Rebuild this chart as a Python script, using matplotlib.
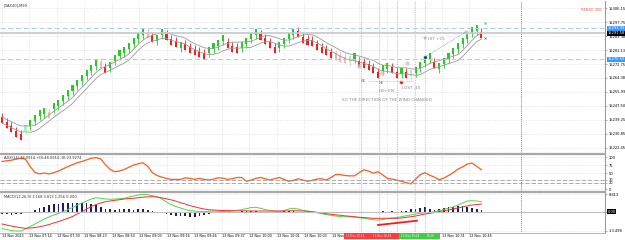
import numpy as np
import pandas as pd
import matplotlib
matplotlib.use("Agg")
import matplotlib.pyplot as plt
from matplotlib.lines import Line2D
from matplotlib.patches import Rectangle

# ---------------- data ----------------
closes = [15237.3, 15234.3, 15231.9, 15228.9, 15227.1, 15236.1, 15239.1, 15242.1, 15245.1, 15246.3,
          15240.3, 15249.3, 15251.1, 15254.1, 15257.1, 15260.1, 15263.1, 15266.1, 15269.1, 15272.1,
          15275.1, 15270.3, 15267.3, 15273.9, 15278.1, 15281.1, 15282.9, 15285.3, 15288.3, 15291.3,
          15293.7, 15288.3, 15285.9, 15290.1, 15293.7, 15287.1, 15284.1, 15282.9, 15285.9, 15281.1,
          15279.3, 15278.1, 15276.9, 15275.7, 15282.9, 15285.3, 15287.1, 15290.1, 15282.3, 15279.9,
          15279.3, 15285.9, 15288.3, 15291.3, 15293.7, 15287.1, 15284.7, 15282.3, 15279.3, 15285.9,
          15288.3, 15291.3, 15293.7, 15288.9, 15285.3, 15284.1, 15283.5, 15281.1, 15279.3, 15278.1,
          15276.3, 15275.1, 15273.9, 15273.3, 15277.5, 15279.3, 15270.9, 15270.3, 15269.1, 15267.3,
          15264.3, 15272.1, 15273.3, 15267.3, 15264.3, 15270.3, 15264.3, 15269.1, 15270.9, 15273.9,
          15276.9, 15279.3, 15270.3, 15273.3, 15276.3, 15279.3, 15282.3, 15285.3, 15288.3, 15291.3,
          15294.9, 15296.1, 15288.3]
pale_bars = [5, 10, 21, 31, 71, 72, 73, 74, 87]
body_size = 3.6
wick_size = 2.4

adx = [87, 89, 91, 94, 97, 94, 71, 53, 48, 51, 48, 52, 57, 64, 71, 77, 83, 87, 92, 97,
       99, 95, 77, 62, 55, 57, 62, 69, 76, 80, 83, 72, 52, 43, 38, 34, 31, 31, 31, 36,
       34, 31, 34, 31, 29, 32, 36, 35, 31, 33, 37, 37, 25, 29, 34, 37, 33, 29, 33, 37,
       31, 25, 28, 33, 29, 25, 28, 32, 33, 29, 37, 46, 46, 43, 42, 42, 52, 61, 57, 50,
       55, 45, 34, 32, 29, 25, 21, 17, 32, 46, 52, 44, 38, 30, 35, 43, 52, 63, 70, 79,
       82, 72, 61]
adx_levels = [30, 20]

macd_green = [-11.8, -12.5, -13.2, -13.5, -13.5, -12.1, -10.4, -8.6, -6.9, -5.1,
              -3.7, -2.3, -1.3, 0.1, 1.5, 2.9, 4.7, 6.1, 7.5, 8.9,
              9.8, 9.4, 8.9, 8.7, 8.9, 9.1, 9.4, 10.3, 11.0, 11.7,
              12.2, 11.9, 11.2, 10.5, 8.9, 6.8, 5.0, 3.6, 2.6, 1.5,
              0.8, 0.5, 0.0, 0.0, 0.3, 0.5, 0.3, 0.1, 0.0, 0.5,
              1.0, 1.5, 2.2, 2.9, 3.1, 2.4, 1.5, 0.8, 0.3, 0.0,
              0.8, 1.9, 2.4, 1.9, 1.0, 0.5, -0.2, -0.7, -1.3, -2.0,
              -2.5, -3.0, -3.4, -3.6, -3.5, -3.7, -4.2, -4.6, -5.1, -5.6,
              -5.8, -5.5, -4.8, -4.4, -4.1, -3.5, -2.8, -2.3, -1.6, -1.1,
              -0.7, -0.6, 0.0, 0.8, 1.7, 2.4, 3.3, 4.7, 6.1, 7.5,
              7.7, 7.5, 7.0]
macd_red = [-8.6, -9.3, -10.0, -10.7, -11.2, -11.6, -11.4, -11.1, -10.5, -9.8,
            -9.0, -7.9, -6.9, -5.8, -4.6, -3.4, -1.6, -0.2, 1.9, 3.6,
            5.0, 6.1, 7.0, 7.5, 8.0, 8.4, 8.9, 9.2, 9.4, 9.8,
            10.2, 10.4, 10.5, 10.3, 9.7, 9.0, 8.3, 7.4, 6.3, 5.4,
            4.3, 3.4, 2.6, 1.9, 1.4, 1.2, 1.0, 0.8, 0.8, 0.7,
            0.6, 0.6, 0.6, 0.5, 0.5, 0.5, 0.5, 0.5, 0.5, 0.5,
            0.5, 0.6, 0.7, 0.6, 0.5, 0.3, 0.0, -0.4, -0.9, -1.4,
            -1.8, -2.2, -2.5, -2.9, -3.2, -3.5, -3.9, -4.1, -4.4, -4.6,
            -4.6, -4.6, -4.6, -4.6, -4.6, -4.4, -3.9, -3.5, -3.0, -2.3,
            -1.6, -1.1, -0.6, 0.0, 0.7, 1.2, 1.9, 2.6, 3.3, 4.1,
            4.7, 5.0, 5.4]
macd_hist = [-1.6, -1.8, -2.0, -1.8, -1.6, -1.0, -0.3, 1.2, 2.4, 3.5,
             4.7, 5.2, 5.4, 5.9, 5.9, 5.9, 5.9, 5.9, 5.9, 5.4,
             4.7, 3.5, 1.9, 1.7, 1.5, 1.7, 2.0, 1.7, 1.5, 1.7,
             1.7, 1.2, 0.5, 0.0, -0.6, -1.6, -2.3, -2.7, -3.0, -3.2,
             -3.5, -3.4, -3.0, -2.3, -1.6, -1.1, -0.9, -0.7, -1.1, -0.9,
             -0.7, 0.6, 0.6, 0.5, 0.6, -0.6, -0.5, -0.6, -0.7, -0.5,
             0.3, 0.5, 0.5, -0.6, -0.9, -0.9, -0.9, -1.0, -0.9, -1.1,
             -1.1, -1.1, -1.0, -1.0, -0.9, -0.9, -0.8, -0.8, -0.7, -0.6,
             -0.3, 0.2, -0.2, 0.3, -0.2, 0.3, 0.3, 1.7, 1.7, 2.4,
             3.1, 1.7, 1.2, 1.7, 2.4, 3.1, 3.5, 4.0, 4.0, 3.5,
             2.4, 1.7, 1.2]

price_ticks = [15306.15, 15297.78, 15289.41, 15281.04, 15272.67, 15264.30,
               15255.93, 15247.56, 15239.19, 15230.82, 15222.45]
price_tick_labels = ["15306.15", "15297.75", "15289.38", "15281.13", "15272.75", "15264.38",
                     "15255.99", "15247.50", "15239.25", "15230.85", "15222.45"]
level_lines_blue = [15294.1, 15275.5]
level_lines_gray = [15292.1, 15291.1]
level_labels = [("15293.90", 15294.1, "#3399ff", "white"),
                ("15291.58", 15291.1, "black", "white"),
                ("15275.50", 15275.5, "#3399ff", "white")]

time_labels = ["13 Nov 2023", "13 Nov 07:14", "13 Nov 07:30", "13 Nov 08:23", "13 Nov 08:50",
               "13 Nov 09:03", "13 Nov 09:16", "13 Nov 09:46", "13 Nov 09:37", "13 Nov 10:00",
               "13 Nov 10:01", "13 Nov 10:03", "13 Nov", "", "", "", "13 Nov 10:31", "13 Nov 10:46"]
time_label_pos = [0.0, 5.85, 11.7, 17.55, 23.4, 29.25, 35.1, 40.95, 46.8, 52.65,
                  58.5, 64.35, 70.2, 76.05, 81.9, 87.75, 93.6, 99.45]
red_box_labels = ["13 Nov 10:14", "13 Nov 10:18"]
green_box_labels = ["13 Nov 10:24", "10:26"]

red_vlines = [76.3, 80.2, 84.1]
green_vlines = [87.9, 90.0]
future_vline = 110.4

trade_circles = [(76.0, 15271.5), (80.9, 15267.3), (86.2, 15273.3), (84.9, 15261.9),
                 (90.0, 15276.9), (98.7, 15291.9)]
be_line = (77.9, 87.2, 15262.5)
tp_line = [(90.0, 15276.9), (98.7, 15291.9)]
macd_div_line = [(80.0, -9.3), (88.3, -6.3)]

# ---------------- figure ----------------
W, H = 625, 240
fig = plt.figure(figsize=(W / 100, H / 100), dpi=100)
fig.patch.set_facecolor("white")


def rect(x0, y0, x1, y1):
    return [x0 / W, 1 - y1 / H, (x1 - x0) / W, (y1 - y0) / H]


ax1 = fig.add_axes(rect(0, 1, 605, 153))
ax2 = fig.add_axes(rect(0, 155, 605, 191))
ax3 = fig.add_axes(rect(0, 193, 605, 232))

xl = (-2 / 4.7, 603 / 4.7)
FS = 2.6
grid_kw = dict(color="#d8d8d8", linestyle=(0, (1, 1.5)), linewidth=0.5)

for ax in (ax1, ax2, ax3):
    ax.set_xlim(*xl)
    for s in ("top", "left", "bottom"):
        ax.spines[s].set_visible(False)
    ax.spines["right"].set_color("#9a9a9a")
    ax.spines["right"].set_linewidth(0.8)
    ax.yaxis.tick_right()
    ax.tick_params(axis="y", labelsize=FS, length=1.5, width=0.4, pad=1.2, color="#777777")
    ax.tick_params(axis="x", length=0)
    ax.set_xticks(time_label_pos)
    ax.grid(True, **grid_kw)
    ax.set_axisbelow(True)
    for v in red_vlines:
        ax.axvline(v, color="#ff6060", linestyle=(0, (1, 1.5)), linewidth=0.5)
    for v in green_vlines:
        ax.axvline(v, color="#60d060", linestyle=(0, (1, 1.5)), linewidth=0.5)
    ax.axvline(future_vline, color="#555555", linestyle=(0, (1.5, 1.5)), linewidth=0.5)

ax1.set_xticklabels([])
ax2.set_xticklabels([])

# ---- main price panel ----
n = len(closes)
idx = np.arange(n)
c = np.array(closes)
up = np.r_[False, c[1:] > c[:-1]]
opens = np.where(up, c - body_size, c + body_size)
lows = np.where(up, opens - wick_size, c)
highs = np.where(up, c, opens + wick_size)
body_lo = np.minimum(opens, c)

col = []
for i in range(n):
    if up[i]:
        col.append("#b6ecb6" if i in pale_bars else "#22cc22")
    else:
        col.append("#ffb0b0" if i in pale_bars else "#ff1a1a")

ax1.vlines(idx, lows, highs, colors=col, linewidth=0.6)
ax1.bar(idx, np.abs(c - opens), bottom=body_lo, width=0.45, color=col, linewidth=0)

s_top = pd.Series(np.maximum(opens, c)).rolling(6, min_periods=1).mean()
s_bot = pd.Series(np.minimum(opens, c)).rolling(6, min_periods=1).mean()
ax1.plot(idx, s_top, color="#9a9a9a", linewidth=0.6)
ax1.plot(idx, s_bot, color="#9a9a9a", linewidth=0.6)

for lv in level_lines_blue:
    ax1.axhline(lv, color="#9fcfff", linestyle=(0, (5, 3)), linewidth=0.7)
for lv in level_lines_gray:
    ax1.axhline(lv, color="#c8c8c8", linewidth=0.6)

ax1.set_ylim(15219.27, 15310.53)
ax1.set_yticks(price_ticks)
ax1.set_yticklabels(price_tick_labels)

for txt, lv, bg, fg in level_labels:
    ax1.text(1.004, lv, txt, transform=ax1.get_yaxis_transform(), fontsize=FS, color=fg,
             va="center", ha="left",
             bbox=dict(boxstyle="square,pad=0.15", fc=bg, ec="none"))

# annotations
for (xi, yv) in trade_circles:
    ax1.plot(xi, yv, "o", ms=3.2, color="#c8c8c8", alpha=0.8, mec="none")
ax1.plot(trade_circles[3][0], trade_circles[3][1], "o", ms=1.2, color="#dd2222")
ax1.plot(trade_circles[4][0], trade_circles[4][1], "o", ms=1.2, color="#223388")
ax1.plot([be_line[0], be_line[1]], [be_line[2], be_line[2]], color="#99e0f0",
         linestyle=(0, (2, 1)), linewidth=0.6)
ax1.plot([p[0] for p in tp_line], [p[1] for p in tp_line], color="#6688dd",
         linestyle=(0, (1, 1)), linewidth=0.5)
ax1.plot(102.8, 15297.2, marker="x", ms=1.4, mew=0.5, color="#33bb33")
ax1.plot(102.8, 15288.2, marker="x", ms=1.4, mew=0.5, color="#ee3333")

tc = "#8a8a8a"
ax1.text(76.4, 15262.5, "BE", fontsize=3, color=tc, va="center", ha="left")
ax1.text(80.2, 15261.5, "BE", fontsize=3, color=tc, va="center", ha="left")
ax1.text(80.2, 15256.6, "DB+DIV", fontsize=3, color=tc, va="center", ha="left")
ax1.text(85.1, 15258.4, "LOST -10", fontsize=3, color=tc, va="center", ha="left")
ax1.text(89.4, 15287.5, "TP HIT +15", fontsize=3, color=tc, va="center", ha="left")
ax1.text(72.3, 15251.1, "SO THE DIRECTION OF THE WIND CHANGED", fontsize=3, color=tc,
         va="center", ha="left")

ax1.text(0.006, 0.985, "[DAX40],M99", transform=ax1.transAxes, fontsize=FS, color="#333333",
         va="top", ha="left")
ax1.text(0.995, 0.955, "RENKO 300", transform=ax1.transAxes, fontsize=FS, color="#ff5555",
         va="top", ha="right")

# ---- ADX panel ----
ax2.plot(idx, adx, color="#ff5a1f", linewidth=0.9)
for lv in adx_levels:
    ax2.axhline(lv, color="#a0a0a0", linestyle=(0, (5, 2.5)), linewidth=0.6)
ax2.set_ylim(-5.3, 107.2)
ax2.set_yticks([100, 75, 50, 30, 20, 0])
ax2.set_yticklabels(["100", "75", "50", "30", "20", "0"])
ax2.text(0.006, 0.96, "ADX(14) 48.0914 +DI:48.0914 -DI:23.9274", transform=ax2.transAxes,
         fontsize=FS, color="#333333", va="top", ha="left")

# ---- MACD panel ----
ax3.bar(idx, macd_hist, width=0.35, color="#1c1c6e", linewidth=0)
ax3.plot(idx, macd_green, color="#44dd44", linewidth=0.7)
ax3.plot(idx, macd_red, color="#ff2a2a", linewidth=0.7)
ax3.axhline(0, color="#c0c0c0", linewidth=0.8)
ax3.plot([p[0] for p in macd_div_line], [p[1] for p in macd_div_line], color="#ff1a1a",
         linewidth=1.3)
ax3.set_ylim(-14.2, 13.1)
ax3.set_yticks([12.2, 0, -13.5])
ax3.set_yticklabels(["8.813", "", "-13.498"])
ax3.text(1.004, 0, "0.00", transform=ax3.get_yaxis_transform(), fontsize=FS, color="white",
         va="center", ha="left", bbox=dict(boxstyle="square,pad=0.15", fc="black", ec="none"))
ax3.text(0.006, 0.96, "MACD(12,26,9) 3.168 3.813 1.256 0.000", transform=ax3.transAxes,
         fontsize=FS, color="#333333", va="top", ha="left")

ax3.set_xticklabels(time_labels, ha="left")
ax3.tick_params(axis="x", labelsize=2.4, pad=1.5)

# panel separators
for y in (154, 192):
    fig.add_artist(Line2D([0, 605 / W], [1 - y / H, 1 - y / H], color="#a8a8a8", linewidth=1.6))
fig.add_artist(Line2D([0, 605 / W], [1 - 232.5 / H] * 2, color="#a8a8a8", linewidth=0.6))

# highlighted time boxes on the axis (drawn above the hidden tick labels)
fig.add_artist(Rectangle((344 / W, 1 - 239 / H), 55 / W, 6 / H, transform=fig.transFigure,
                         fc="#ff3b3b", ec="none", zorder=5))
fig.add_artist(Rectangle((399 / W, 1 - 239 / H), 41 / W, 6 / H, transform=fig.transFigure,
                         fc="#44cc44", ec="none", zorder=5))
fig.text(346 / W, 1 - 236 / H, red_box_labels[0], fontsize=2.0, color="#ffe0e0",
         va="center", ha="left", zorder=6)
fig.text(373 / W, 1 - 236 / H, red_box_labels[1], fontsize=2.0, color="#ffe0e0",
         va="center", ha="left", zorder=6)
fig.text(401 / W, 1 - 236 / H, green_box_labels[0], fontsize=2.0, color="#e6ffe6",
         va="center", ha="left", zorder=6)
fig.text(427 / W, 1 - 236 / H, green_box_labels[1], fontsize=2.0, color="#e6ffe6",
         va="center", ha="left", zorder=6)

fig.savefig("out.png", dpi=100, facecolor="white")
